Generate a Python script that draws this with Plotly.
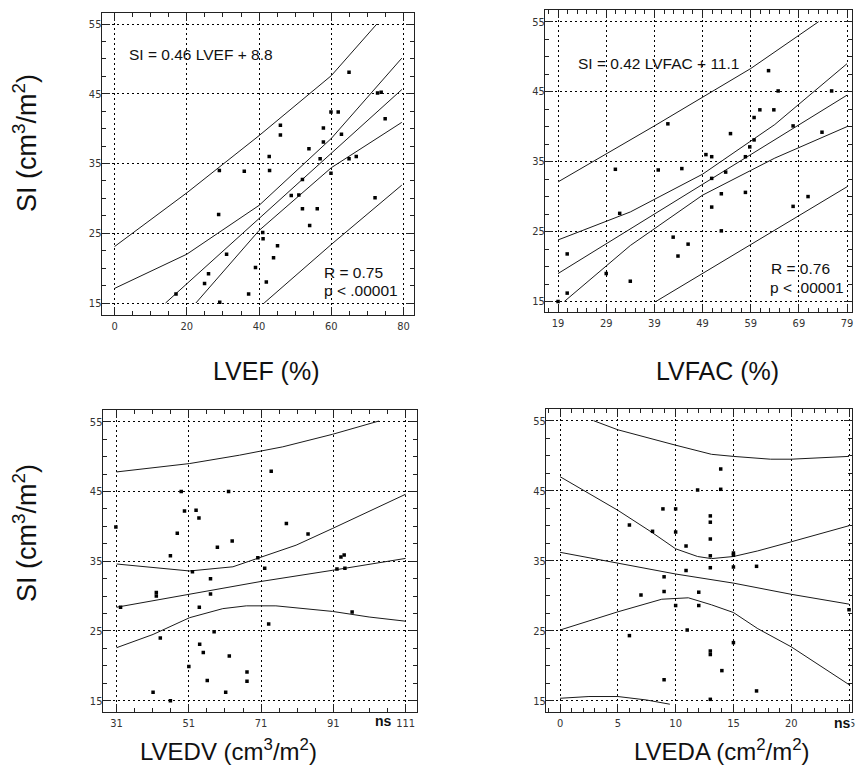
import plotly.graph_objects as go

# ---------------- Panel A : LVEF ----------------
lvef_x = [17.0, 24.9, 26.0, 29.0, 28.8, 29.1, 31.0, 35.9, 37.1, 39.0, 41.0, 41.1, 42.0, 42.8, 42.9,
          44.0, 45.1, 45.9, 45.9, 48.9, 51.0, 52.0, 52.0, 53.8, 54.0, 56.1, 56.9, 57.8, 57.8, 59.9,
          59.9, 61.9, 62.8, 64.9, 64.9, 66.9, 72.1, 72.8, 73.8, 74.9]
lvef_si = [16.3, 17.8, 19.2, 34.0, 27.7, 15.1, 22.0, 33.9, 16.3, 20.1, 25.1, 24.2, 18.0, 36.0, 34.0,
           21.5, 23.2, 40.5, 39.1, 30.4, 30.5, 32.7, 28.5, 37.1, 26.1, 28.5, 35.7, 38.1, 40.1, 42.4,
           33.6, 42.4, 39.2, 48.1, 35.7, 36.0, 30.1, 45.1, 45.2, 41.4]
lvef_reg_x = [14.1, 79.5]
lvef_reg_y = [15.0, 45.6]
lvef_ciu_x = [0, 20, 40, 60, 79.5]
lvef_ciu_y = [17.1, 22.0, 29.0, 38.6, 50.1]
lvef_cil_x = [22.5, 40, 60, 79.5]
lvef_cil_y = [15.0, 25.4, 34.4, 40.9]
lvef_piu_x = [0, 20, 40, 60, 72.6]
lvef_piu_y = [23.1, 30.8, 39.0, 47.6, 55.0]
lvef_pil_x = [41.4, 60, 79.5]
lvef_pil_y = [15.0, 23.4, 31.9]

# ---------------- Panel B : LVFAC ----------------
lvfac_x = [19.0, 20.9, 20.9, 29.0, 30.9, 31.8, 34.0, 39.8, 41.8, 42.9, 43.9, 44.7, 46.0, 49.7, 50.9,
           50.9, 50.9, 52.9, 52.9, 53.8, 54.8, 57.9, 57.9, 58.8, 59.7, 59.7, 60.9, 62.7, 63.8, 64.7,
           67.8, 67.8, 70.9, 73.8, 75.8]
lvfac_si = [15.0, 21.8, 16.2, 19.0, 33.9, 27.6, 17.9, 33.8, 40.4, 24.2, 21.5, 34.0, 23.2, 36.0, 35.7,
            32.6, 28.5, 30.4, 25.1, 33.5, 39.0, 35.7, 30.6, 37.1, 38.1, 41.3, 42.4, 48.0, 42.4, 45.1,
            40.1, 28.6, 30.0, 39.2, 45.1]
lvfac_reg_x = [19, 79]
lvfac_reg_y = [19.0, 44.5]
lvfac_ciu_x = [19, 34, 49, 64, 79]
lvfac_ciu_y = [23.8, 27.8, 33.2, 40.3, 49.0]
lvfac_cil_x = [20.3, 34, 49, 64, 79]
lvfac_cil_y = [15.0, 23.0, 30.2, 35.5, 40.0]
lvfac_piu_x = [19, 39, 59, 73.1]
lvfac_piu_y = [32.1, 40.1, 48.3, 55.0]
lvfac_pil_x = [39.3, 59, 79]
lvfac_pil_y = [15.0, 23.1, 31.4]

# ---------------- Panel C : LVEDV ----------------
lvedv_x = [30.8, 32.1, 41.1, 42.0, 42.0, 43.1, 45.9, 45.9, 47.8, 48.9, 49.8, 51.0, 52.0, 53.0, 53.8,
           53.9, 54.0, 55.0, 56.1, 57.0, 57.0, 58.0, 58.9, 61.2, 62.0, 62.2, 63.0, 67.1, 67.1, 70.1,
           72.0, 73.1, 73.8, 78.0, 84.0, 92.0, 93.1, 94.0, 94.2, 96.2]
lvedv_si = [39.9, 28.4, 16.2, 30.5, 30.0, 24.0, 35.8, 15.0, 39.0, 45.0, 42.2, 19.9, 33.5, 42.3, 41.2,
            28.4, 23.1, 21.9, 17.9, 32.5, 30.3, 24.9, 37.0, 16.2, 45.0, 21.4, 37.9, 19.1, 17.8, 35.5,
            34.0, 26.0, 47.9, 40.4, 38.9, 33.9, 35.6, 35.9, 34.0, 27.7]
lvedv_reg_x = [31, 51.2, 71, 90.8, 111]
lvedv_reg_y = [28.4, 30.3, 32.1, 33.7, 35.4]
lvedv_ciu_x = [31, 51.2, 63.2, 71, 80.7, 90.8, 100.9, 111]
lvedv_ciu_y = [34.6, 33.6, 34.2, 35.6, 37.3, 39.7, 42.1, 44.6]
lvedv_cil_x = [31, 41.1, 51.2, 60.4, 66.9, 75.1, 90.8, 100.9, 111]
lvedv_cil_y = [22.6, 24.5, 26.9, 28.2, 28.6, 28.6, 27.8, 27.0, 26.4]
lvedv_piu_x = [31, 51.2, 65, 77, 90.8, 103.6]
lvedv_piu_y = [47.8, 49.0, 50.2, 51.4, 53.2, 55.1]

# ---------------- Panel D : LVEDA ----------------
lveda_x = [6.0, 6.0, 7.0, 8.0, 8.9, 9.0, 9.0, 9.0, 10.0, 10.0, 10.0, 10.9, 10.9, 11.0, 11.9, 12.0,
           12.0, 13.0, 13.0, 13.0, 13.0, 13.0, 13.0, 13.0, 13.0, 13.9, 13.9, 14.0, 15.0, 15.0, 15.0,
           15.0, 17.0, 17.0, 25.0]
lveda_si = [40.1, 24.3, 30.1, 39.2, 42.4, 32.7, 30.6, 18.0, 42.4, 39.1, 28.6, 37.1, 33.6, 25.1, 45.1,
            30.5, 28.6, 41.4, 40.5, 38.1, 35.7, 34.0, 22.1, 21.6, 15.2, 48.1, 45.2, 19.3, 36.1, 35.8,
            34.1, 23.3, 34.2, 16.4, 28.0]
lveda_reg_x = [0, 5, 10, 15, 20, 25]
lveda_reg_y = [36.2, 34.6, 33.1, 31.8, 30.2, 28.8]
lveda_ciu_x = [0, 5, 7.9, 10, 11.9, 13.1, 15, 17.1, 20, 25]
lveda_ciu_y = [47.0, 42.2, 39.1, 36.7, 35.6, 35.3, 35.6, 36.4, 37.7, 40.0]
lveda_cil_x = [0, 5, 8.8, 11.1, 13.1, 15, 17.1, 20, 25]
lveda_cil_y = [25.1, 27.7, 29.5, 29.7, 28.7, 27.6, 25.3, 22.7, 17.3]
lveda_piu_x = [2.9, 5, 10, 13.1, 15, 18.2, 20, 25]
lveda_piu_y = [55.0, 53.7, 51.5, 50.2, 49.9, 49.5, 49.5, 49.9]
lveda_pil_x = [0, 2.5, 5, 7.5, 9.5]
lveda_pil_y = [15.35, 15.6, 15.6, 15.1, 14.5]

# The page's body margin is removed in post_script, so the figure fills the window.
OX, OY = 0, 0
W, H = 858, 765
LINE = dict(color="#1a1a1a", width=1)
MARK = dict(symbol="square", size=3.5, color="#000000", line=dict(width=0))

fig = go.Figure()

def add_panel(n, px, py, lines):
    xa = "x" if n == 1 else f"x{n}"
    ya = "y" if n == 1 else f"y{n}"
    for lx, ly in lines:
        fig.add_trace(go.Scatter(x=lx, y=ly, mode="lines", line=LINE, xaxis=xa, yaxis=ya,
                                 showlegend=False, hoverinfo="skip"))
    fig.add_trace(go.Scatter(x=px, y=py, mode="markers", marker=MARK, xaxis=xa, yaxis=ya,
                             showlegend=False))

add_panel(1, lvef_x, lvef_si, [(lvef_reg_x, lvef_reg_y), (lvef_ciu_x, lvef_ciu_y), (lvef_cil_x, lvef_cil_y),
                               (lvef_piu_x, lvef_piu_y), (lvef_pil_x, lvef_pil_y)])
add_panel(2, lvfac_x, lvfac_si, [(lvfac_reg_x, lvfac_reg_y), (lvfac_ciu_x, lvfac_ciu_y), (lvfac_cil_x, lvfac_cil_y),
                                 (lvfac_piu_x, lvfac_piu_y), (lvfac_pil_x, lvfac_pil_y)])
add_panel(3, lvedv_x, lvedv_si, [(lvedv_reg_x, lvedv_reg_y), (lvedv_ciu_x, lvedv_ciu_y), (lvedv_cil_x, lvedv_cil_y),
                                 (lvedv_piu_x, lvedv_piu_y)])
add_panel(4, lveda_x, lveda_si, [(lveda_reg_x, lveda_reg_y), (lveda_ciu_x, lveda_ciu_y), (lveda_cil_x, lveda_cil_y),
                                 (lveda_piu_x, lveda_piu_y), (lveda_pil_x, lveda_pil_y)])

TICKFONT = dict(family="Liberation Sans Narrow, DejaVu Sans Condensed, Arial Narrow, sans-serif",
                size=11, color="#333333")

def px2x(p):
    return (p - OX) / W

def px2y(p):
    return 1 - (p - OY) / H

def axis(dom, rng, tick0, dtick, mdtick, anchor, standoff):
    return dict(domain=dom, range=rng, tick0=tick0, dtick=dtick, tickmode="linear",
                anchor=anchor, showline=True, linecolor="#222222", linewidth=1, mirror="allticks",
                ticks="inside", ticklen=8, tickwidth=1, tickcolor="#222222",
                minor=dict(dtick=mdtick, tick0=tick0, ticks="inside", ticklen=4, tickcolor="#222222", showgrid=False),
                showgrid=True, gridcolor="#000000", gridwidth=1, griddash="2px,3px",
                zeroline=False, tickfont=TICKFONT, ticklabelstandoff=standoff,
                ticklabeloverflow="allow")

dA = ([px2x(102), px2x(415)], [px2y(315), px2y(13)])
dB = ([px2x(547), px2x(855)], [px2y(312), px2y(10)])
dC = ([px2x(103), px2x(418)], [px2y(712), px2y(410)])
dD = ([px2x(548), px2x(855)], [px2y(712), px2y(409)])

fig.update_layout(
    width=W, height=H, margin=dict(l=0, r=0, t=0, b=0),
    paper_bgcolor="white", plot_bgcolor="white",
    xaxis=axis(dA[0], [-3.59, 82.76], 0, 20, 5, "y", 1),
    yaxis=axis(dA[1], [13.28, 56.58], 15, 10, 2.5, "x", -3),
    xaxis2=axis(dB[0], [16.31, 80.03], 19, 10, 2, "y2", 1),
    yaxis2=axis(dB[1], [13.5, 56.67], 15, 10, 2.5, "x2", -3),
    xaxis3=axis(dC[0], [27.14, 114.03], 31, 20, 5, "y3", 1),
    yaxis3=axis(dC[1], [13.38, 56.68], 15, 10, 2.5, "x3", -3),
    xaxis4=axis(dD[0], [-1.21, 25.26], 0, 5, 1, "y4", 1),
    yaxis4=axis(dD[1], [13.39, 56.67], 15, 10, 2.5, "x4", -3),
)

TXT = dict(family="Liberation Sans, Arial, sans-serif", color="#111111")

def note(text, x, y, size, xanchor="left", angle=0):
    fig.add_annotation(text=text, x=px2x(x), y=px2y(y), xref="paper", yref="paper",
                       xanchor=xanchor, yanchor="middle", showarrow=False, textangle=angle,
                       font=dict(size=size, **TXT))

note("SI = 0.46 LVEF + 8.8", 127, 55, 15.5)
note("R = 0.75", 323, 272, 15.5)
note("p < .00001", 323, 290, 15.5)
note("SI = 0.42 LVFAC + 11.1", 578, 63, 15.5)
note("R = 0.76", 772, 268, 15.5)
note("p < .00001", 771, 287, 15.5)

note("LVEF (%)", 267, 371, 25, "center")
note("LVFAC (%)", 720, 371, 25, "center")
note("LVEDV (cm<sup>3</sup>/m<sup>2</sup>)", 229, 750, 24, "center")
note("LVEDA (cm<sup>2</sup>/m<sup>2</sup>)", 725, 750, 24, "center")
note("SI (cm<sup>3</sup>/m<sup>2</sup>)", 25, 143, 27, "center", -90)
note("SI (cm<sup>3</sup>/m<sup>2</sup>)", 25, 533, 27, "center", -90)

fig.add_annotation(text="<b>ns</b>", x=px2x(385), y=px2y(721), xref="paper", yref="paper",
                   xanchor="center", yanchor="middle", showarrow=False, font=dict(size=14, **TXT))
fig.add_annotation(text="<b>ns</b>", x=px2x(845), y=px2y(723), xref="paper", yref="paper",
                   xanchor="center", yanchor="middle", showarrow=False, bgcolor="white", borderpad=0,
                   font=dict(size=14, **TXT))

fig.write_html("out.html", config={"displayModeBar": False}, post_script=(
    "document.documentElement.style.margin='0px';"
    "document.body.style.margin='0px';"
    "document.documentElement.style.overflow='hidden';"
    "document.body.style.overflow='hidden';"))
